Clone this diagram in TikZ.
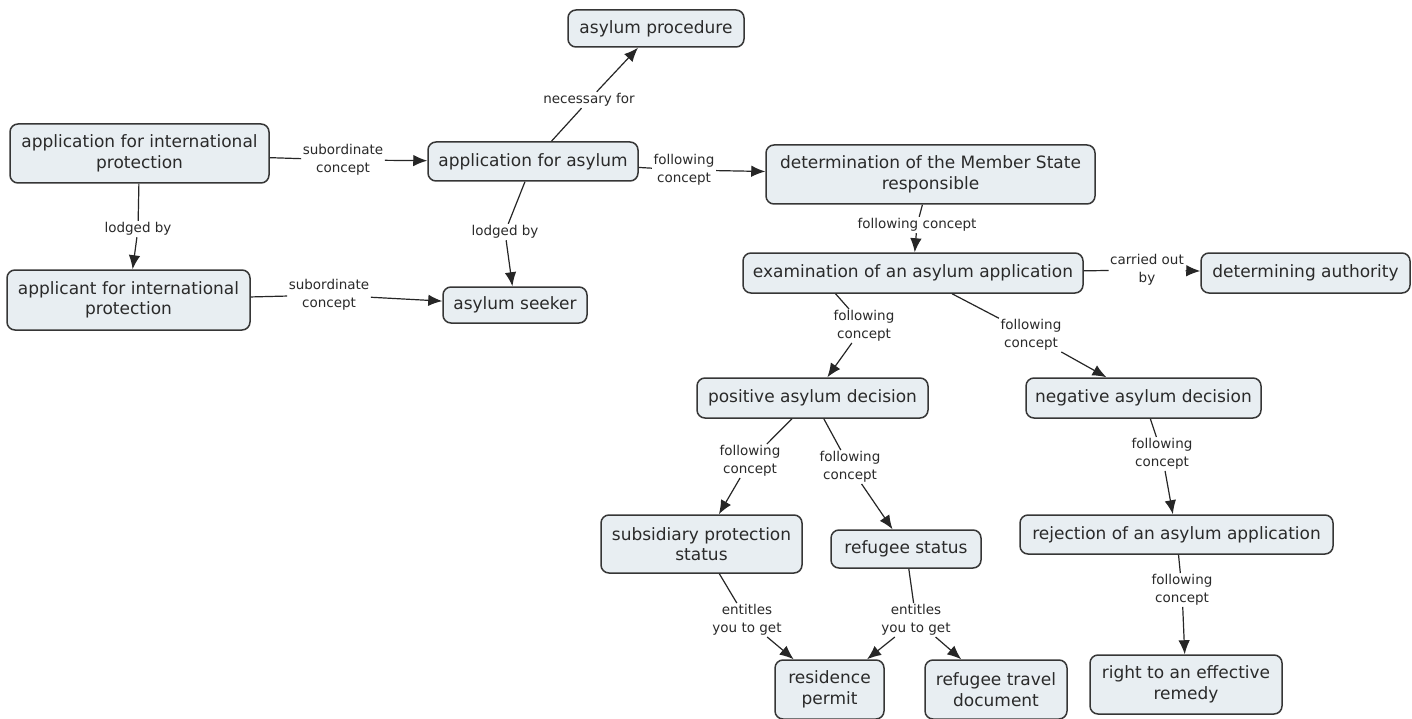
\documentclass[tikz,border=0pt]{standalone}
\usepackage{fontspec}
\setmainfont{DejaVu Sans}
\usetikzlibrary{arrows.meta}
\definecolor{boxfill}{HTML}{E8EEF2}
\definecolor{boxline}{HTML}{363636}
\definecolor{txt}{HTML}{2A2A2A}
\definecolor{edge}{HTML}{262626}
\tikzset{
  concept/.style={draw=boxline, fill=boxfill, rounded corners=8pt, line width=1.5pt,
    font=\fontsize{17}{20.5}\selectfont, text=txt, align=center, inner sep=0pt},
  phrase/.style={fill=white, font=\fontsize{13.5}{17.5}\selectfont, text=txt, align=center, inner sep=1.5pt},
  link/.style={line width=1.2pt, draw=edge},
  arr/.style={link, -{Latex[length=14pt,width=11.5pt]}}
}
\begin{document}
\begin{tikzpicture}[x=1pt,y=-1pt]
\useasboundingbox[fill=white] (0,0) rectangle (1412,719);

% concepts
\node[concept, minimum width=176pt, minimum height=37pt] (proc) at (656,28.5) {asylum procedure};
\node[concept, minimum width=259pt, minimum height=59pt] (aip) at (139.5,153.5) {application for international\\protection};
\node[concept, minimum width=210pt, minimum height=39pt] (afa) at (533,161.5) {application for asylum};
\node[concept, minimum width=329pt, minimum height=59pt] (det) at (930.5,174.5) {determination of the Member State\\responsible};
\node[concept, minimum width=243pt, minimum height=60pt] (apl) at (128.5,300) {applicant for international\\protection};
\node[concept, minimum width=144pt, minimum height=36pt] (seek) at (515,305) {asylum seeker};
\node[concept, minimum width=340pt, minimum height=40pt] (exam) at (913,273) {examination of an asylum application};
\node[concept, minimum width=209pt, minimum height=40pt] (auth) at (1305.5,273) {determining authority};
\node[concept, minimum width=231pt, minimum height=40pt] (pos) at (812.5,398) {positive asylum decision};
\node[concept, minimum width=235pt, minimum height=40pt] (neg) at (1143.5,398) {negative asylum decision};
\node[concept, minimum width=201pt, minimum height=58pt] (sub) at (701.5,544) {subsidiary protection\\status};
\node[concept, minimum width=150pt, minimum height=38pt] (ref) at (906,549) {refugee status};
\node[concept, minimum width=313pt, minimum height=39pt] (rej) at (1176.5,534.5) {rejection of an asylum application};
\node[concept, minimum width=109pt, minimum height=59pt] (res) at (829.5,689.5) {residence\\permit};
\node[concept, minimum width=142pt, minimum height=59pt] (trav) at (996,689.5) {refugee travel\\document};
\node[concept, minimum width=192pt, minimum height=59pt] (rem) at (1186,684.5) {right to an effective\\remedy};

% linking phrases
\node[phrase] (l1) at (343,160) {subordinate\\concept};
\node[phrase] (l2) at (138,229) {lodged by};
\node[phrase] (l3) at (589,100) {necessary for};
\node[phrase] (l4) at (684,170) {following\\concept};
\node[phrase] (l5) at (505,232) {lodged by};
\node[phrase] (l6) at (329,295) {subordinate\\concept};
\node[phrase] (l7) at (917,225) {following concept};
\node[phrase] (l8) at (1147,270) {carried out\\by};
\node[phrase] (l9) at (864,326) {following\\concept};
\node[phrase] (l10) at (1031,335) {following\\concept};
\node[phrase] (l11) at (750,461) {following\\concept};
\node[phrase] (l12) at (850,467) {following\\concept};
\node[phrase] (l13) at (1162,454) {following\\concept};
\node[phrase] (l14) at (1182,590) {following\\concept};
\node[phrase] (l15) at (747,620) {entitles\\you to get};
\node[phrase] (l16) at (916,620) {entitles\\you to get};

% connectors
\draw[link] (aip) -- (l1); \draw[arr] (l1) -- (afa);
\draw[link] (aip) -- (l2); \draw[arr] (l2) -- (apl);
\draw[link] (afa) -- (l3); \draw[arr] (l3) -- (proc);
\draw[link] (afa) -- (l4); \draw[arr] (l4) -- (det);
\draw[link] (afa) -- (l5); \draw[arr] (l5) -- (seek);
\draw[link] (apl) -- (l6); \draw[arr] (l6) -- (seek);
\draw[link] (det) -- (l7); \draw[arr] (l7) -- (exam);
\draw[link] (exam) -- (l8); \draw[arr] (l8) -- (auth);
\draw[link] (exam.195) -- (l9); \draw[arr] (l9) -- (pos);
\draw[link] (exam.-28) -- (l10); \draw[arr] (l10) -- (neg);
\draw[link] (pos) -- (l11); \draw[arr] (l11) -- (sub);
\draw[link] (pos) -- (l12); \draw[arr] (l12) -- (ref);
\draw[link] (neg) -- (l13); \draw[arr] (l13) -- (rej);
\draw[link] (rej) -- (l14); \draw[arr] (l14) -- (rem);
\draw[link] (sub) -- (l15); \draw[arr] (l15) -- (res);
\draw[link] (ref) -- (l16); \draw[arr] (l16) -- (res); \draw[arr] (l16) -- (trav);
\end{tikzpicture}
\end{document}
